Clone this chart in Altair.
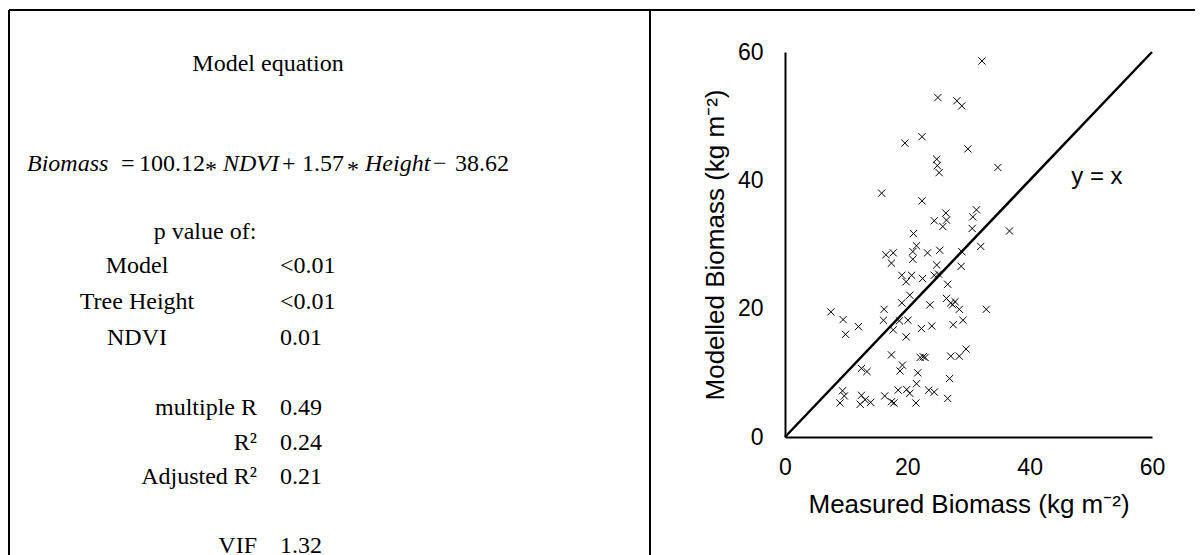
import altair as alt
import pandas as pd

# ---- data ----
measured = [32.2, 25.0, 28.1, 28.9, 19.6, 22.4, 29.9, 24.8, 24.9, 25.2,
            34.8, 15.8, 22.4, 26.3, 26.4, 24.4, 25.8, 31.3, 30.7, 30.6,
            21.0, 36.7, 21.5, 20.9, 16.5, 17.7, 17.4, 20.9, 23.3, 25.3,
            28.9, 32.0, 24.8, 28.8, 19.1, 19.8, 20.7, 22.5, 24.4, 25.1,
            26.6, 20.4, 19.1, 16.2, 23.7, 26.4, 27.1, 27.4, 27.8, 28.5,
            32.9, 29.1, 7.5, 9.5, 12.0, 9.9, 16.1, 18.7, 20.1, 17.7,
            19.8, 22.3, 24.0, 27.5, 17.4, 22.1, 22.6, 22.9, 27.1, 28.5,
            29.6, 12.5, 13.4, 18.8, 19.2, 21.7, 26.9, 21.5, 18.5, 19.9,
            20.4, 23.5, 24.4, 26.6, 21.4, 9.4, 9.7, 9.0, 12.5, 13.1,
            12.3, 14.0, 16.3, 17.4, 17.8]
modelled = [58.6, 52.9, 52.4, 51.6, 45.8, 46.8, 44.9, 43.3, 42.3, 41.2,
            42.0, 38.0, 36.8, 34.9, 33.8, 33.7, 32.8, 35.4, 34.3, 32.5,
            31.7, 32.1, 29.8, 28.9, 28.4, 28.7, 27.1, 27.7, 28.7, 29.1,
            28.9, 29.7, 26.8, 26.6, 25.2, 24.2, 25.2, 24.7, 25.2, 25.4,
            23.8, 22.1, 20.9, 19.9, 20.6, 21.6, 20.9, 20.6, 21.1, 19.9,
            19.9, 18.2, 19.5, 18.3, 17.2, 16.0, 18.2, 18.1, 18.2, 16.7,
            15.6, 16.9, 17.3, 17.5, 12.8, 12.4, 12.5, 12.4, 12.6, 12.6,
            13.7, 10.7, 10.2, 10.3, 11.2, 10.0, 9.1, 8.3, 7.3, 7.4,
            6.8, 7.3, 7.0, 6.0, 5.3, 7.2, 6.4, 5.3, 6.5, 5.8,
            5.1, 5.4, 6.4, 5.5, 5.3]
axis_ticks = [0, 20, 40, 60]
identity_line = [0, 60]

# table texts
p_labels = ["Model", "Tree Height", "NDVI"]
p_values = ["<0.01", "<0.01", "0.01"]
fit_labels = ["multiple R", "R\u00b2", "Adjusted R\u00b2"]
fit_values = ["0.49", "0.24", "0.21"]

pts = pd.DataFrame({"measured": measured, "modelled": modelled})
line_df = pd.DataFrame({"measured": identity_line, "modelled": identity_line})
one = pd.DataFrame({"a": [0]})

W, H = 367, 385
PAD_L, PAD_T = 777, 44
TOT_W, TOT_H = 1187, 547

xs = alt.Scale(domain=[0, 60], nice=False)
ys = alt.Scale(domain=[0, 60], nice=False)

x_axis = alt.Axis(values=axis_ticks, ticks=False, tickSize=0, grid=False, labelFlush=False,
                  labelPadding=19, labelFontSize=23, labelFont="Liberation Sans",
                  labelColor="black", domainColor="black", domainWidth=2,
                  title="Measured Biomass (kg m\u207b\u00b2)", titleFont="Liberation Sans",
                  titleFontSize=26, titleFontWeight="normal", titleColor="black",
                  titleX=W / 2, titleY=75, titleAlign="center", titleBaseline="alphabetic")
y_axis = alt.Axis(values=axis_ticks, ticks=False, tickSize=0, grid=False, labelFlush=False,
                  labelPadding=22, labelFontSize=23, labelFont="Liberation Sans",
                  labelColor="black", domainColor="black", domainWidth=2,
                  title="Modelled Biomass (kg m\u207b\u00b2)", titleFont="Liberation Sans",
                  titleFontSize=26, titleFontWeight="normal", titleColor="black",
                  titleX=-62, titleY=H / 2, titleAngle=-90, titleAlign="center",
                  titleBaseline="alphabetic")

scatter = alt.Chart(pts).mark_point(
    shape="M-1,-1L1,1M-1,1L1,-1", size=52, filled=False, color="black",
    strokeWidth=1, opacity=1
).encode(
    x=alt.X("measured:Q", scale=xs, axis=x_axis),
    y=alt.Y("modelled:Q", scale=ys, axis=y_axis),
)

line = alt.Chart(line_df).mark_line(color="black", strokeWidth=2.5).encode(
    x=alt.X("measured:Q", scale=xs), y=alt.Y("modelled:Q", scale=ys)
)

yx_label = alt.Chart(pd.DataFrame({"measured": [46.8], "modelled": [39.4], "t": ["y = x"]})).mark_text(
    align="left", baseline="alphabetic", font="Liberation Sans", fontSize=24, color="black"
).encode(x=alt.X("measured:Q", scale=xs), y=alt.Y("modelled:Q", scale=ys), text="t:N")


def txt(s, x, y, align="left", size=24, style="normal", font="Liberation Serif"):
    return alt.Chart(one).mark_text(
        text=s, align=align, baseline="alphabetic", font=font, fontSize=size,
        fontStyle=style, color="black"
    ).encode(x=alt.value(x), y=alt.value(y))


def rule(x1, y1, x2, y2):
    return alt.Chart(one).mark_rule(color="black", strokeWidth=2).encode(
        x=alt.value(x1), y=alt.value(y1), x2=alt.value(x2), y2=alt.value(y2))


OX, OY = 785, 52  # page position of plot origin
layers = [
    rule(8 - OX + 1, 10 - OY, 1195 - OX, 10 - OY),
    rule(8 - OX + 1, 10 - OY, 8 - OX + 1, 555 - OY),
    rule(650 - OX, 10 - OY, 650 - OX, 555 - OY),
    txt("Model equation", 268 - OX, 71 - OY, align="center"),
]

eq_y = 171 - OY
eq_parts = [("Biomass", 27, 0, "italic"), ("=", 121, 0, "normal"), ("100.12", 139, 0, "normal"),
            ("*", 205, 6, "normal"), ("NDVI", 223, 0, "italic"), ("+", 282, 0, "normal"),
            ("1.57", 302, 0, "normal"), ("*", 347, 6, "normal"), ("Height", 365, 0, "italic"),
            ("\u2212", 433, 0, "normal"), ("38.62", 455, 0, "normal")]
for s, px, dy, st in eq_parts:
    layers.append(txt(s, px - OX, eq_y + dy, style=st))

layers.append(txt("p value of:", 205 - OX, 239 - OY, align="center"))
for lab, val, py in zip(p_labels, p_values, [272.7, 309.3, 345]):
    layers.append(txt(lab, 137 - OX, py - OY, align="center"))
    layers.append(txt(val, 280 - OX, py - OY))
for lab, val, py in zip(fit_labels, fit_values, [415, 450, 484]):
    layers.append(txt(lab, 257 - OX, py - OY, align="right"))
    layers.append(txt(val, 280 - OX, py - OY))
layers.append(txt("VIF", 257 - OX, 553 - OY, align="right"))
layers.append(txt("1.32", 280 - OX, 553 - OY))

chart = alt.layer(*layers, line, scatter, yx_label).properties(
    width=W, height=H,
    padding={"left": PAD_L, "top": PAD_T, "right": TOT_W - PAD_L - W, "bottom": TOT_H - PAD_T - H},
    autosize=alt.AutoSizeParams(type="none"),
    background="white",
).configure_view(stroke=None)

chart.save("out.html", embed_options={"renderer": "svg", "actions": False})
